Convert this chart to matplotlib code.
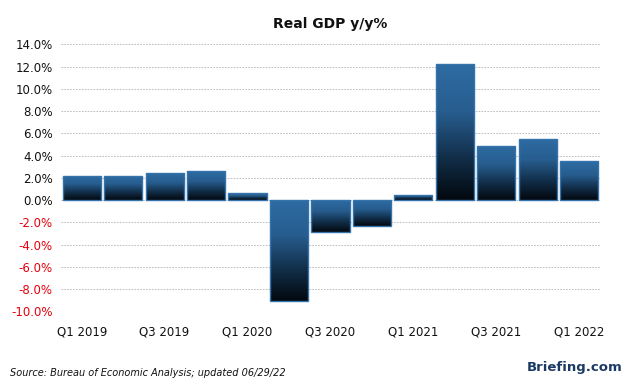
import matplotlib
matplotlib.use("Agg")
import matplotlib.pyplot as plt
import numpy as np
from matplotlib.colors import LinearSegmentedColormap

quarters = ["Q1 2019", "Q2 2019", "Q3 2019", "Q4 2019",
            "Q1 2020", "Q2 2020", "Q3 2020", "Q4 2020",
            "Q1 2021", "Q2 2021", "Q3 2021", "Q4 2021", "Q1 2022"]
gdp_yy = [2.2, 2.2, 2.4, 2.6, 0.6, -9.1, -2.9, -2.3, 0.5, 12.2, 4.9, 5.5, 3.5]
yticks = [-10, -8, -6, -4, -2, 0, 2, 4, 6, 8, 10, 12, 14]

fig = plt.figure(figsize=(6.26, 3.89), dpi=100)
ax = fig.add_axes([0.0974, 0.1997, 0.861, 0.6863])

x = np.arange(len(quarters))
bars = ax.bar(x, gdp_yy, width=0.92, color="none", edgecolor="#3473ab",
              linewidth=1.0, zorder=3)

# gradient fill: blue on top, nearly black at the bottom
cmap = LinearSegmentedColormap.from_list(
    "bar", [(0, "#2e6ca2"), (0.35, "#275d8f"), (0.7, "#112d47"), (1, "#03080e")])
grad = np.linspace(0, 1, 256).reshape(-1, 1)
for b in bars:
    x0, y0 = b.get_x(), b.get_y()
    w, h = b.get_width(), b.get_height()
    lo, hi = min(y0, y0 + h), max(y0, y0 + h)
    im = ax.imshow(grad, cmap=cmap, aspect="auto", extent=[x0, x0 + w, lo, hi],
                   origin="upper", zorder=2, interpolation="bilinear")
    im.set_clip_path(b)

ax.set_xlim(-0.5, len(quarters) - 0.5)
ax.set_ylim(-10, 14)
ax.set_yticks(yticks)
ax.set_yticklabels([f"{v:.1f}%" for v in yticks], fontsize=8.5)
for lbl, v in zip(ax.get_yticklabels(), yticks):
    lbl.set_color("#e8000b" if v < 0 else "#111111")
ax.set_xticks(x[::2])
ax.set_xticklabels(quarters[::2], fontsize=8.5, color="#111111")
ax.tick_params(length=0, pad=6)
ax.tick_params(axis="x", pad=10)

ax.grid(axis="y", color="#b4b4b4", linestyle=(0, (2, 1.5)), linewidth=0.6, zorder=0)
for s in ax.spines.values():
    s.set_visible(False)

fig.text(0.527, 0.938, "Real GDP y/y%", ha="center", va="center",
         fontsize=10, fontweight="bold", color="#111111")
fig.text(0.016, 0.041, "Source: Bureau of Economic Analysis; updated 06/29/22",
         ha="left", va="center", fontsize=7, style="italic", color="#111111")
fig.text(0.995, 0.054, "Briefing.com", ha="right", va="center",
         fontsize=9.5, fontweight="bold", color="#1b3a63")

fig.savefig("out.png", dpi=100)
